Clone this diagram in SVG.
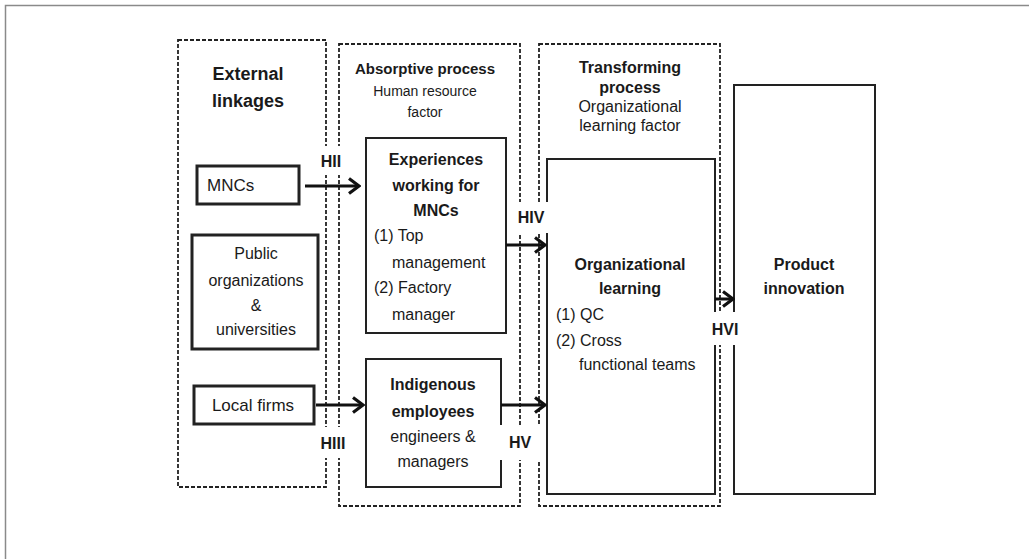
<svg xmlns="http://www.w3.org/2000/svg" width="1029" height="559" viewBox="0 0 1029 559">
<defs>
<style>
text{font-family:"Liberation Sans",Arial,sans-serif;fill:#1a1a1a;}
.b{font-weight:bold;}
.c{text-anchor:middle;}
.t16{font-size:16px;}
.t17{font-size:17px;}
.t14{font-size:14px;}
.t18{font-size:18px;}
.dash{fill:none;stroke:#222;stroke-width:1.8;stroke-dasharray:4 2;}
.thick{fill:#fff;stroke:#222;stroke-width:3;}
.solid{fill:#fff;stroke:#222;stroke-width:2;}
.arr{stroke:#111;stroke-width:3;fill:none;marker-end:url(#ah);}
.gap{fill:#fff;stroke:none;}
</style>
<marker id="ah" markerUnits="userSpaceOnUse" markerWidth="18" markerHeight="20" viewBox="0 0 18 20" refX="16" refY="10" orient="auto">
<path d="M6,2.5 L16,10 L6,17.5" fill="none" stroke="#111" stroke-width="3.2"/>
</marker>
</defs>
<rect width="1029" height="559" fill="#fff"/>
<path d="M5.5,559 V5.5 H1029" fill="none" stroke="#8a8a8a" stroke-width="1.5"/>

<g id="group-external">
<rect class="dash" x="178" y="40" width="148" height="447"/>
<text class="b c t18" x="248" y="80">External</text>
<text class="b c t18" x="248" y="107">linkages</text>
</g>
<g id="group-absorptive">
<rect class="dash" x="339" y="44" width="181" height="462"/>
<text class="b c t14" x="425" y="74" textLength="140" lengthAdjust="spacingAndGlyphs">Absorptive  process</text>
<text class="c t14" x="425" y="96">Human resource</text>
<text class="c t14" x="425" y="117">factor</text>
</g>
<g id="group-transforming">
<rect class="dash" x="539" y="44" width="181" height="462"/>
<text class="b c t16" x="630" y="73">Transforming</text>
<text class="b c t16" x="630" y="93">process</text>
<text class="c t16" x="630" y="112">Organizational</text>
<text class="c t16" x="630" y="131">learning factor</text>
</g>

<g id="node-mncs">
<rect class="thick" x="197" y="166" width="102" height="38"/>
<text class="t17" x="207" y="191">MNCs</text>
</g>
<g id="node-public">
<rect class="thick" x="192" y="235" width="126" height="114"/>
<text class="c t16" x="256" y="259">Public</text>
<text class="c t16" x="256" y="286">organizations</text>
<text class="c t16" x="256" y="311">&amp;</text>
<text class="c t16" x="256" y="335">universities</text>
</g>
<g id="node-local">
<rect class="thick" x="194" y="386" width="120" height="38"/>
<text class="c t17" x="253" y="411">Local firms</text>
</g>
<g id="node-experiences">
<rect class="solid" x="366" y="138" width="140" height="195"/>
<text class="b c t16" x="436" y="165">Experiences</text>
<text class="b c t16" x="436" y="191">working for</text>
<text class="b c t16" x="436" y="216">MNCs</text>
<text class="t16" x="374" y="241">(1) Top</text>
<text class="t16" x="392" y="268">management</text>
<text class="t16" x="374" y="293">(2) Factory</text>
<text class="t16" x="392" y="320">manager</text>
</g>
<g id="node-indigenous">
<rect class="solid" x="366" y="359" width="135" height="128"/>
<text class="b c t16" x="433" y="390">Indigenous</text>
<text class="b c t16" x="433" y="417">employees</text>
<text class="c t16" x="433" y="442">engineers &amp;</text>
<text class="c t16" x="433" y="467">managers</text>
</g>
<g id="node-orglearning">
<rect class="solid" x="547" y="159" width="168" height="335"/>
<text class="b c t16" x="630" y="270">Organizational</text>
<text class="b c t16" x="630" y="294">learning</text>
<text class="t16" x="556" y="320">(1) QC</text>
<text class="t16" x="556" y="346">(2)  Cross</text>
<text class="t16" x="579" y="370">functional teams</text>
</g>
<g id="node-product">
<rect class="solid" x="734" y="85" width="141" height="409"/>
<text class="b c t16" x="804" y="270">Product</text>
<text class="b c t16" x="804" y="294">innovation</text>
</g>

<g id="connectors">
<line class="arr" x1="305" y1="186" x2="359" y2="186"/>
<line class="arr" x1="316" y1="405" x2="363" y2="405"/>
<line class="arr" x1="506" y1="245" x2="545" y2="245"/>
<line class="arr" x1="501" y1="405" x2="545" y2="405"/>
<line class="arr" x1="715" y1="299" x2="733" y2="299"/>
</g>

<g id="labels">
<rect class="gap" x="314" y="146" width="36" height="29"/>
<text class="b c t16" x="331" y="167">HII</text>
<rect class="gap" x="318" y="427" width="32" height="31"/>
<text class="b c t16" x="333" y="449">HIII</text>
<rect class="gap" x="511" y="202" width="40" height="31"/>
<text class="b c t16" x="531" y="223">HIV</text>
<rect class="gap" x="497" y="425" width="46" height="35"/>
<text class="b c t16" x="520" y="448">HV</text>
<rect class="gap" x="707" y="312" width="36" height="33"/>
<text class="b c t16" x="725" y="335">HVI</text>
</g>
</svg>
